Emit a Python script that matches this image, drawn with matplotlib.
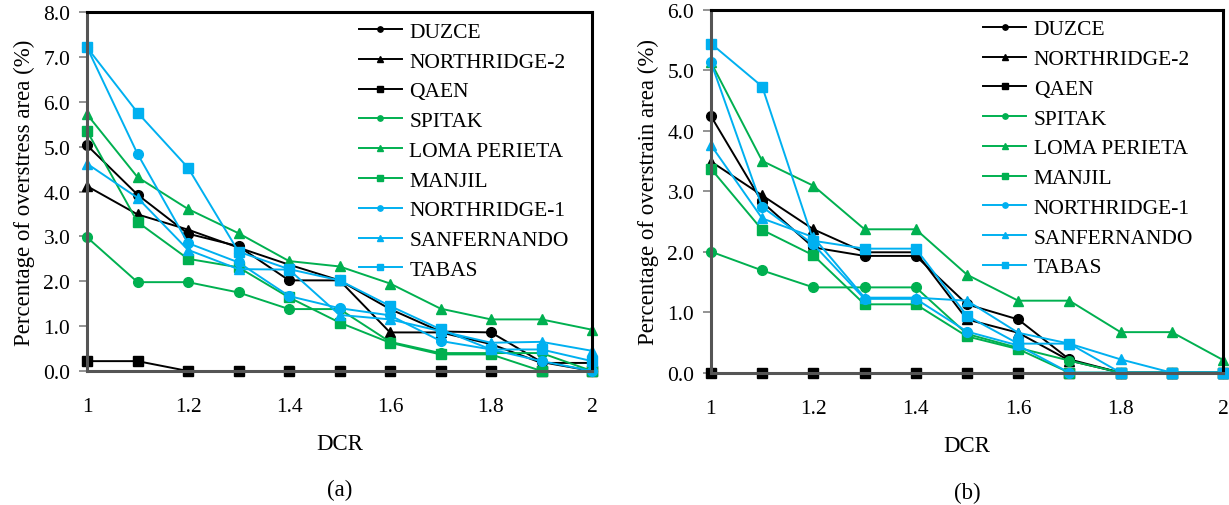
import numpy as np
import matplotlib
matplotlib.use("Agg")
import matplotlib.pyplot as plt

plt.rcParams['font.family'] = ['Liberation Serif', 'DejaVu Serif']

dcr = [1.0, 1.1, 1.2, 1.3, 1.4, 1.5, 1.6, 1.7, 1.8, 1.9, 2.0]
records = ["DUZCE", "NORTHRIDGE-2", "QAEN", "SPITAK", "LOMA PERIETA",
           "MANJIL", "NORTHRIDGE-1", "SANFERNANDO", "TABAS"]

# (a) overstress area (%)
stress_duzce = [5.03, 3.93, 3.06, 2.78, 2.02, 2.02, 1.38, 0.88, 0.86, 0.20, 0.0]
stress_nr2 = [4.12, 3.49, 3.15, 2.75, 2.37, 2.02, 0.86, 0.86, 0.60, 0.18, 0.18]
stress_qaen = [0.22, 0.22, 0.0, 0.0, 0.0, 0.0, 0.0, 0.0, 0.0, 0.0, 0.0]
stress_spitak = [2.98, 1.98, 1.98, 1.75, 1.38, 1.38, 0.65, 0.40, 0.40, 0.40, 0.0]
stress_loma = [5.72, 4.32, 3.61, 3.07, 2.45, 2.33, 1.95, 1.39, 1.15, 1.15, 0.92]
stress_manjil = [5.35, 3.32, 2.50, 2.31, 1.64, 1.08, 0.63, 0.37, 0.37, 0.0, 0.0]
stress_nr1 = [7.21, 4.84, 2.85, 2.42, 1.67, 1.40, 1.24, 0.67, 0.48, 0.22, 0.0]
stress_sanf = [4.62, 3.86, 2.70, 2.27, 2.26, 1.25, 1.15, 0.89, 0.63, 0.65, 0.45]
stress_tabas = [7.21, 5.76, 4.53, 2.66, 2.27, 2.02, 1.45, 0.93, 0.48, 0.48, 0.22]

# (b) overstrain area (%)
strain_duzce = [4.24, 2.82, 2.07, 1.93, 1.93, 1.13, 0.88, 0.22, 0.0, 0.0, 0.0]
strain_nr2 = [3.49, 2.93, 2.37, 1.99, 1.99, 0.88, 0.66, 0.20, 0.0, 0.0, 0.0]
strain_qaen = [0.0, 0.0, 0.0, 0.0, 0.0, 0.0, 0.0, 0.0, 0.0, 0.0, 0.0]
strain_spitak = [2.00, 1.69, 1.41, 1.41, 1.41, 0.64, 0.41, 0.20, 0.0, 0.0, 0.0]
strain_loma = [5.13, 3.50, 3.09, 2.37, 2.37, 1.62, 1.19, 1.19, 0.67, 0.67, 0.21]
strain_manjil = [3.37, 2.36, 1.94, 1.13, 1.13, 0.60, 0.39, 0.0, 0.0, 0.0, 0.0]
strain_nr1 = [5.13, 2.74, 2.12, 1.22, 1.22, 0.68, 0.45, 0.0, 0.0, 0.0, 0.0]
strain_sanf = [3.76, 2.55, 2.24, 1.24, 1.24, 1.19, 0.66, 0.48, 0.22, 0.0, 0.0]
strain_tabas = [5.44, 4.73, 2.18, 2.05, 2.05, 0.94, 0.48, 0.48, 0.0, 0.0, 0.0]

stress_series = [stress_duzce, stress_nr2, stress_qaen, stress_spitak, stress_loma,
                 stress_manjil, stress_nr1, stress_sanf, stress_tabas]
strain_series = [strain_duzce, strain_nr2, strain_qaen, strain_spitak, strain_loma,
                 strain_manjil, strain_nr1, strain_sanf, strain_tabas]

colors = ["#000000"] * 3 + ["#00b050"] * 3 + ["#00b0f0"] * 3
markers = ["o", "^", "s"] * 3

xticks = [1.0, 1.2, 1.4, 1.6, 1.8, 2.0]
xticklabels = ["1", "1.2", "1.4", "1.6", "1.8", "2"]


def draw_panel(ax, series, ymax, ylabel, tag, legend_x):
    for name, vals, c, m in zip(records, series, colors, markers):
        ax.plot(dcr, vals, color=c, marker=m, markersize=7, lw=1.4,
                label=name, clip_on=False)
    ax.set_xlim(1, 2)
    ax.set_ylim(0, ymax)
    ax.set_yticks(np.arange(0, ymax + 0.01, 1.0))
    ax.set_yticklabels([f"{v:.1f}" for v in np.arange(0, ymax + 0.01, 1.0)])
    ax.set_xticks(xticks)
    ax.set_xticklabels(xticklabels)
    ax.tick_params(axis='y', direction='out', length=6, width=1.2, color='#808080',
                   labelsize=15.5, pad=6)
    ax.tick_params(axis='x', length=0, labelsize=15.5, pad=19)
    for side in ['top', 'right']:
        ax.spines[side].set_linewidth(2.2)
        ax.spines[side].set_color('black')
    ax.spines['left'].set_linewidth(2.2)
    ax.spines['left'].set_color('#555555')
    ax.spines['bottom'].set_linewidth(2.2)
    ax.spines['bottom'].set_color('#555555')
    ax.set_ylabel(ylabel, fontsize=16.5, labelpad=6)
    ax.set_xlabel("DCR", fontsize=16.5, labelpad=12)
    ax.text(0.5, -0.33, tag, transform=ax.transAxes, ha='center', va='center',
            fontsize=16.5)
    ax.legend(loc='upper left', bbox_to_anchor=(legend_x, 1.0), frameon=False,
              fontsize=15.5, handlelength=2.0, handletextpad=0.35, labelspacing=0.45,
              borderaxespad=0.05, markerscale=0.55)


fig = plt.figure(figsize=(12.29, 5.06), dpi=100)
ax1 = fig.add_axes([0.0708, 0.2648, 0.4109, 0.7095])
ax2 = fig.add_axes([0.5785, 0.2615, 0.4166, 0.7174])

draw_panel(ax1, stress_series, 8.0, "Percentage of overstress area (%)", "(a)", 0.519)
draw_panel(ax2, strain_series, 6.0, "Percentage of overstrain area (%)", "(b)", 0.513)

fig.savefig("out.png", dpi=100)
